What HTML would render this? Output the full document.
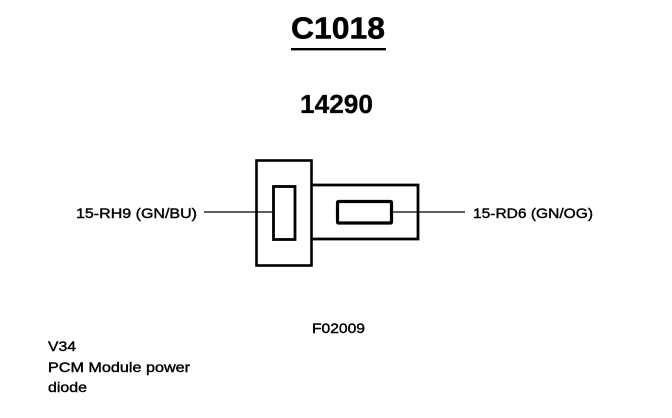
<!DOCTYPE html>
<html>
<head>
<meta charset="utf-8">
<style>
html,body{margin:0;padding:0;background:#fff;width:672px;height:418px;overflow:hidden}
svg{display:block}
text{font-family:"Liberation Sans",sans-serif;fill:#000}
</style>
</head>
<body>
<svg width="672" height="418" viewBox="0 0 672 418" xmlns="http://www.w3.org/2000/svg">
<text x="291" y="38.5" font-size="31" font-weight="bold" textLength="94" lengthAdjust="spacingAndGlyphs" stroke="#000" stroke-width="0.5">C1018</text>
<rect x="291" y="48" width="95" height="2.4" fill="#000"/>
<text x="300" y="113" font-size="26" font-weight="bold" textLength="73" lengthAdjust="spacingAndGlyphs" stroke="#000" stroke-width="0.3">14290</text>

<g fill="none" stroke="#000">
<line x1="204" y1="212" x2="273" y2="212" stroke-width="1.2"/>
<line x1="392" y1="212" x2="465" y2="212" stroke-width="1.2"/>
<rect x="256.5" y="160.5" width="55" height="105" stroke-width="2.6"/>
<path d="M312 185H418V239H312" stroke-width="2.8"/>
<rect x="273.5" y="186.5" width="21.5" height="53" stroke-width="2.8"/>
<rect x="337.5" y="201.5" width="54" height="21.5" rx="1" stroke-width="3.2"/>
</g>

<g stroke="#000" stroke-width="0.4">
<text x="76" y="218" font-size="14" textLength="121" lengthAdjust="spacingAndGlyphs">15-RH9 (GN/BU)</text>
<text x="473" y="218" font-size="14" textLength="120" lengthAdjust="spacingAndGlyphs">15-RD6 (GN/OG)</text>
<text x="312" y="333" font-size="14" textLength="53" lengthAdjust="spacingAndGlyphs">F02009</text>
<text x="48" y="351" font-size="14" textLength="28" lengthAdjust="spacingAndGlyphs">V34</text>
<text x="48" y="372" font-size="14" textLength="142" lengthAdjust="spacingAndGlyphs">PCM Module power</text>
<text x="48" y="392" font-size="14" textLength="39" lengthAdjust="spacingAndGlyphs">diode</text>
</g>
</svg>
</body>
</html>
